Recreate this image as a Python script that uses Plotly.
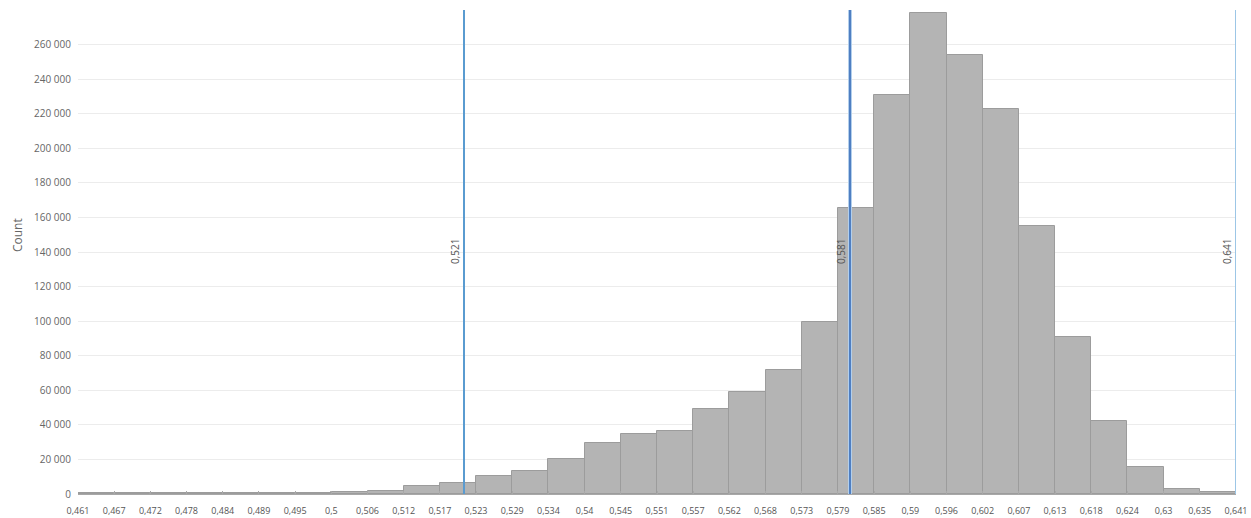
import numpy as np
import plotly.graph_objects as go

# Histogram bins: 32 equal bins spanning 0.461 .. 0.641
x_min = 0.461
x_max = 0.641
n_bins = 32

tick_labels = [
    "0,461", "0,467", "0,472", "0,478", "0,484", "0,489", "0,495", "0,5",
    "0,506", "0,512", "0,517", "0,523", "0,529", "0,534", "0,54", "0,545",
    "0,551", "0,557", "0,562", "0,568", "0,573", "0,579", "0,585", "0,59",
    "0,596", "0,602", "0,607", "0,613", "0,618", "0,624", "0,63", "0,635",
    "0,641",
]

counts = [
    300, 300, 350, 400, 450, 550, 800, 1200,
    2000, 4400, 6200, 10200, 13300, 20000, 29600, 34800,
    36500, 49200, 59200, 71700, 99500, 165300, 230800, 278100,
    253700, 222500, 155000, 91000, 42000, 15600, 2700, 1000,
]

# Reference lines (value, label, colour, width)
ref_values = [0.521, 0.581, 0.641]
ref_labels = ["0,521", "0,581", "0,641"]
ref_colors = ["#5a9bd0", "#4f7fc2", "#9cc6e6"]
ref_widths = [2, 2, 2]

y_ticks = list(range(0, 260001, 20000))
y_tick_text = ["0"] + [f"{v // 1000} 000" for v in y_ticks[1:]]

edges = np.linspace(x_min, x_max, n_bins + 1)
centers = (edges[:-1] + edges[1:]) / 2
bin_w = edges[1] - edges[0]

fig = go.Figure()

fig.add_trace(go.Bar(
    x=centers,
    y=counts,
    width=bin_w,
    marker=dict(color="#b4b4b4", line=dict(color="#9c9c9c", width=1)),
    hoverinfo="x+y",
    showlegend=False,
))

shapes = []
annotations = []
for val, lab, col, w in zip(ref_values, ref_labels, ref_colors, ref_widths):
    if val == 0.581:
        # soft halo behind the middle marker
        shapes.append(dict(type="line", xref="x", yref="paper", x0=val, x1=val,
                           y0=0, y1=1, line=dict(color="#b3cfec", width=4)))
    shapes.append(dict(type="line", xref="x", yref="paper", x0=val, x1=val,
                       y0=0, y1=1, line=dict(color=col, width=w)))
    annotations.append(dict(
        x=val, xref="x", y=0.5, yref="paper",
        text=lab, showarrow=False, textangle=-90,
        xanchor="center", yanchor="middle", xshift=-9,
        font=dict(family="Open Sans", size=10, color="#555555"),
    ))

annotations.append(dict(
    x=-0.0527, xref="paper", y=0.535, yref="paper", text="Count",
    showarrow=False, textangle=-90, xanchor="center", yanchor="middle",
    font=dict(family="Open Sans", size=12, color="#666666"),
))

fig.update_layout(
    width=1251,
    height=518,
    margin=dict(l=78, r=15, t=10, b=24),
    paper_bgcolor="white",
    plot_bgcolor="white",
    bargap=0,
    shapes=shapes,
    annotations=annotations,
    font=dict(family="Open Sans", color="#666666"),
    xaxis=dict(
        range=[x_min, x_max],
        tickvals=edges,
        ticktext=tick_labels,
        tickangle=0,
        showgrid=False,
        zeroline=False,
        showline=True,
        linecolor="#a8a8a8",
        linewidth=1,
        ticks="inside",
        ticklen=3,
        tickcolor="#a8a8a8",
        tickfont=dict(family="Open Sans", size=9, color="#555555"),
        ticklabelstandoff=8,
        automargin=False,
        fixedrange=True,
    ),
    yaxis=dict(
        range=[0, 280000],
        tickvals=y_ticks,
        ticktext=y_tick_text,
        showgrid=True,
        gridcolor="#ececec",
        gridwidth=1,
        zeroline=False,
        showline=False,
        ticks="",
        tickfont=dict(family="Open Sans", size=10, color="#666666"),
        ticklabelstandoff=6,
        automargin=False,
        fixedrange=True,
    ),
)

fig.write_html("out.html")
